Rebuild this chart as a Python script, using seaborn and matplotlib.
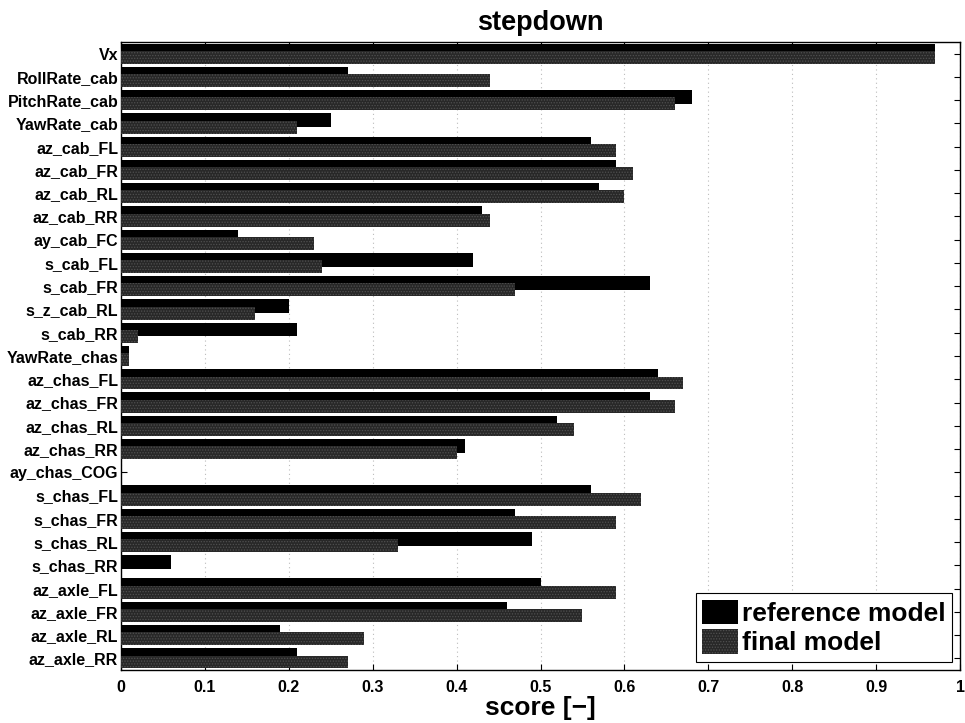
import numpy as np
import pandas as pd
import matplotlib
matplotlib.use("Agg")
import matplotlib.pyplot as plt
from matplotlib.patches import Patch
import seaborn as sns

# Signals evaluated in the stepdown manoeuvre (top to bottom)
signals = [
    "Vx", "RollRate_cab", "PitchRate_cab", "YawRate_cab",
    "az_cab_FL", "az_cab_FR", "az_cab_RL", "az_cab_RR", "ay_cab_FC",
    "s_cab_FL", "s_cab_FR", "s_z_cab_RL", "s_cab_RR",
    "YawRate_chas", "az_chas_FL", "az_chas_FR", "az_chas_RL", "az_chas_RR",
    "ay_chas_COG", "s_chas_FL", "s_chas_FR", "s_chas_RL", "s_chas_RR",
    "az_axle_FL", "az_axle_FR", "az_axle_RL", "az_axle_RR",
]

reference_scores = [
    0.97, 0.27, 0.68, 0.25,
    0.56, 0.59, 0.57, 0.43, 0.14,
    0.42, 0.63, 0.20, 0.21,
    0.01, 0.64, 0.63, 0.52, 0.41,
    0.00, 0.56, 0.47, 0.49, 0.06,
    0.50, 0.46, 0.19, 0.21,
]

final_scores = [
    0.97, 0.44, 0.66, 0.21,
    0.59, 0.61, 0.60, 0.44, 0.23,
    0.24, 0.47, 0.16, 0.02,
    0.01, 0.67, 0.66, 0.54, 0.40,
    0.00, 0.62, 0.59, 0.33, 0.00,
    0.59, 0.55, 0.29, 0.27,
]

model_names = ["reference model", "final model"]
x_ticks = [0, 0.1, 0.2, 0.3, 0.4, 0.5, 0.6, 0.7, 0.8, 0.9, 1]
x_tick_labels = ["0", "0.1", "0.2", "0.3", "0.4", "0.5", "0.6", "0.7", "0.8", "0.9", "1"]

df = pd.DataFrame({
    "signal": signals * 2,
    "score": reference_scores + final_scores,
    "model": [model_names[0]] * len(signals) + [model_names[1]] * len(signals),
})

sns.set_theme(style="white")
plt.rcParams["font.family"] = ["Liberation Sans", "DejaVu Sans"]
plt.rcParams["text.color"] = "black"
plt.rcParams["axes.labelcolor"] = "black"
plt.rcParams["xtick.color"] = "black"
plt.rcParams["ytick.color"] = "black"
plt.rcParams["hatch.linewidth"] = 0.6

fig = plt.figure(figsize=(9.65, 7.23), dpi=100)
ax = fig.add_axes([0.1254, 0.0733, 0.8695, 0.8686])

ref_color = "#000000"
final_color = "#282828"
speckle = "#505050"

sns.barplot(
    data=df, x="score", y="signal", hue="model", orient="h",
    order=signals, hue_order=model_names,
    palette={model_names[0]: ref_color, model_names[1]: final_color},
    width=0.87, dodge=True, saturation=1, legend=False, ax=ax,
)

# Overlapping grouped bars: the reference bar is taller and partly hidden
# under the final-model bar, which carries a speckled fill.
ref_bars, final_bars = ax.containers[0], ax.containers[1]
for p in ref_bars:
    h = p.get_height()
    p.set_height(h * 1.35)
    p.set_linewidth(0)
    p.set_zorder(2)
for p in final_bars:
    h = p.get_height()
    bottom = p.get_y() + h
    p.set_height(h * 1.27)
    p.set_y(bottom - h * 1.27)
    p.set_hatch("......")
    p.set_edgecolor(speckle)
    p.set_linewidth(0)
    p.set_zorder(3)

ax.set_xlim(0, 1)
ax.set_ylim(len(signals) - 0.5, -0.5)
ax.set_xticks(x_ticks)
ax.set_xticklabels(x_tick_labels, fontsize=11.5, fontweight="bold")
ax.set_yticks(range(len(signals)))
ax.set_yticklabels(signals, fontsize=11.5, fontweight="bold")
ax.tick_params(axis="both", which="both", direction="in", length=4, width=0.8,
               colors="black", top=True, right=True, bottom=True, left=True)
ax.tick_params(axis="y", pad=2)
ax.tick_params(axis="x", pad=7)

ax.xaxis.grid(True, linestyle=(0, (1, 3)), color="#bbbbbb", linewidth=0.8)
ax.yaxis.grid(False)
ax.set_axisbelow(True)
for s in ax.spines.values():
    s.set_color("black")
    s.set_linewidth(1.0)
    s.set_visible(True)

ax.set_ylabel("")
ax.set_xlabel("score [\u2212]", fontsize=19, fontweight="bold", labelpad=1)
ax.set_title("stepdown", fontsize=19.5, fontweight="bold", pad=9)

handles = [
    Patch(facecolor=ref_color, edgecolor=ref_color, linewidth=0),
    Patch(facecolor=final_color, edgecolor=speckle, hatch="......", linewidth=0),
]
leg = ax.legend(
    handles, model_names, loc="lower right",
    prop={"weight": "bold", "size": 19},
    frameon=True, fancybox=False, framealpha=1, edgecolor="black",
    handlelength=1.35, handleheight=1.05, handletextpad=0.15,
    labelspacing=0.12, borderpad=0.25, borderaxespad=0.3,
)
leg.get_frame().set_linewidth(0.8)

fig.savefig("out.png", dpi=100)
